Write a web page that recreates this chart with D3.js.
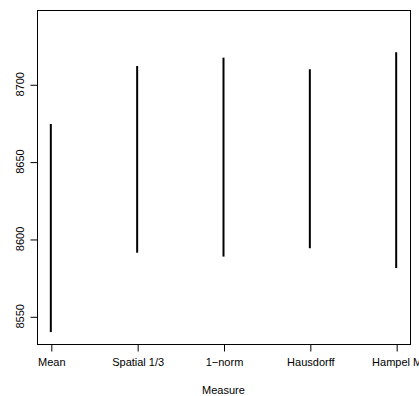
<!DOCTYPE html>
<html lang="en">
<head>
<meta charset="utf-8">
<style>
  body { margin: 0; background: #fff; }
  svg { display: block; font-family: "Liberation Sans", Arial, sans-serif; }
</style>
</head>
<body>
<svg width="419" height="396"></svg>
<script src="https://d3js.org/d3.v7.min.js"></script>
<script>
// categories and interval ends
var measures = ["Mean", "Spatial 1/3", "1\u2212norm", "Hausdorff", "Hampel M"];
var lower = [8539.8, 8591.1, 8588.6, 8594.0, 8581.2];
var upper = [8674.3, 8711.8, 8717.2, 8709.7, 8720.7];
var yTicks = [8550, 8600, 8650, 8700];

var svg = d3.select("svg");
var box = { left: 37, top: 10, right: 410, bottom: 344 };

var x = d3.scaleLinear().domain([0.84, 5.16]).range([box.left, box.right]);
var y = d3.scaleLinear().domain([8532.1, 8748.0]).range([box.bottom, box.top]);

// plot box
svg.append("rect")
    .attr("x", box.left + 0.5).attr("y", box.top + 0.5)
    .attr("width", box.right - box.left).attr("height", box.bottom - box.top)
    .attr("fill", "none").attr("stroke", "#000").attr("stroke-width", 1);

// y axis
var yAxis = svg.append("g")
    .attr("transform", "translate(" + (box.left + 0.5) + ",0.5)")
    .call(d3.axisLeft(y).tickValues(yTicks).tickSize(7).tickPadding(0).tickFormat(d3.format("d")));
yAxis.select(".domain").remove();
yAxis.selectAll("text").remove();
svg.selectAll(".ylab")
    .data(yTicks)
    .enter().append("text")
    .attr("class", "ylab")
    .attr("transform", function (d) { return "translate(24," + y(d) + ") rotate(-90)"; })
    .attr("text-anchor", "middle")
    .attr("font-size", 11)
    .text(function (d) { return d; });

// x axis
var xAxis = svg.append("g")
    .attr("transform", "translate(0.5," + (box.bottom + 0.5) + ")")
    .call(d3.axisBottom(x).tickValues([1, 2, 3, 4, 5]).tickSize(7).tickSizeOuter(0)
        .tickFormat(function (d) { return measures[d - 1]; }));
xAxis.select(".domain").attr("d", "M" + x(1) + ",0H" + x(5));
xAxis.selectAll("text").attr("font-size", 11).attr("font-family", "inherit").attr("fill", "#000").attr("dy", "1.05em").attr("y", 10);

svg.append("text")
    .attr("x", (box.left + box.right) / 2).attr("y", 394)
    .attr("text-anchor", "middle").attr("font-size", 11)
    .text("Measure");

// intervals
svg.selectAll(".seg")
    .data(measures)
    .enter().append("line")
    .attr("class", "seg")
    .attr("x1", function (d, i) { return x(i + 1); })
    .attr("x2", function (d, i) { return x(i + 1); })
    .attr("y1", function (d, i) { return y(lower[i]); })
    .attr("y2", function (d, i) { return y(upper[i]); })
    .attr("stroke", "#000").attr("stroke-width", 2);
</script>
</body>
</html>
